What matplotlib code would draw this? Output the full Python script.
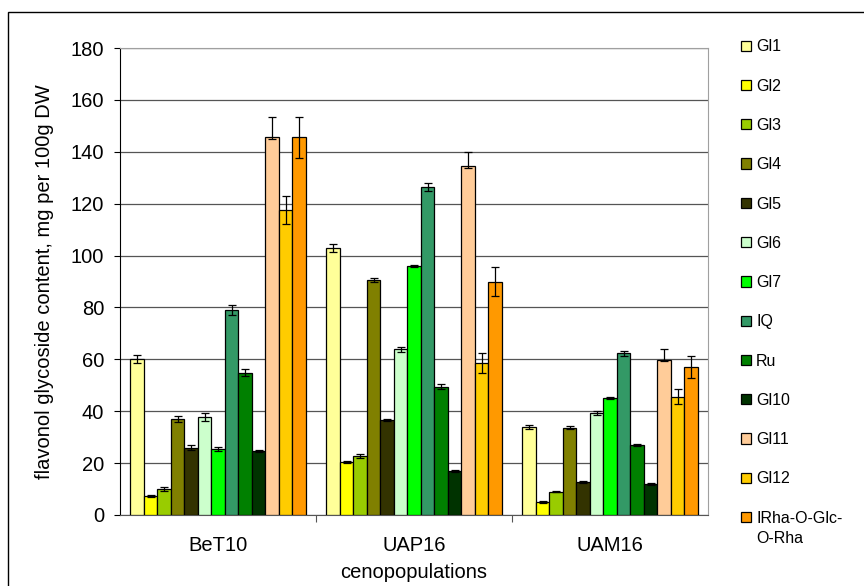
import numpy as np
import matplotlib
matplotlib.use("Agg")
import matplotlib.pyplot as plt
from matplotlib.patches import Rectangle

plt.rcParams['font.family'] = ['Liberation Sans', 'DejaVu Sans']

# Data
groups = ['BeT10', 'UAP16', 'UAM16']
compounds = ['Gl1', 'Gl2', 'Gl3', 'Gl4', 'Gl5', 'Gl6', 'Gl7', 'IQ', 'Ru',
             'Gl10', 'Gl11', 'Gl12', 'IRha-O-Glc-O-Rha']
colors = ['#FFFF99', '#FFFF00', '#99CC00', '#808000', '#333300', '#CCFFCC',
          '#00FF00', '#339966', '#008000', '#003300', '#FFCC99', '#FFCC00',
          '#FF9900']

# values per compound: [BeT10, UAP16, UAM16]
values = [
    [60.1, 102.8, 34.0],
    [7.2, 20.5, 5.0],
    [10.0, 22.8, 9.0],
    [36.9, 90.5, 33.7],
    [26.0, 36.6, 12.8],
    [37.8, 63.9, 39.3],
    [25.6, 96.1, 45.2],
    [79.0, 126.4, 62.3],
    [54.9, 49.5, 27.1],
    [24.6, 16.8, 12.0],
    [145.6, 134.6, 59.9],
    [117.5, 58.6, 45.5],
    [145.6, 89.7, 56.9],
]
err_low = [
    [1.7, 1.5, 0.8],
    [0.4, 0.4, 0.3],
    [0.8, 0.7, 0.3],
    [1.2, 0.8, 0.6],
    [1.0, 0.4, 0.4],
    [1.4, 0.9, 0.6],
    [0.8, 0.4, 0.4],
    [1.8, 1.5, 1.1],
    [1.2, 0.9, 0.4],
    [0.5, 0.4, 0.4],
    [0.6, 1.0, 0.4],
    [5.4, 3.9, 2.6],
    [7.9, 5.4, 4.1],
]
err_high = [
    [1.7, 1.5, 0.8],
    [0.4, 0.4, 0.3],
    [0.8, 0.7, 0.3],
    [1.2, 0.8, 0.6],
    [1.0, 0.4, 0.4],
    [1.4, 0.9, 0.6],
    [0.8, 0.4, 0.4],
    [1.8, 1.5, 1.1],
    [1.2, 0.9, 0.4],
    [0.5, 0.4, 0.4],
    [7.7, 5.5, 4.1],
    [5.6, 3.8, 2.9],
    [7.8, 5.8, 4.3],
]

fig = plt.figure(figsize=(8.64, 5.86), dpi=100)
ax = fig.add_axes([120 / 864, 1 - 515 / 586, 588 / 864, 467 / 586])

# outer chart frame (only left and top edges visible)
fig.patches.append(Rectangle((8 / 864, -0.05), 1.1, 1 - 12 / 586 + 0.05,
                             transform=fig.transFigure, fill=False,
                             edgecolor='black', linewidth=1.0, zorder=0))

x = np.arange(len(groups))
w = 13.5 / 196
n = len(compounds)
handles = []
for j in range(n):
    pos = x + (j - (n - 1) / 2) * w
    b = ax.bar(pos, values[j], width=w, color=colors[j], edgecolor='black',
               linewidth=0.9, zorder=3, label=compounds[j])
    ax.errorbar(pos, values[j], yerr=[err_low[j], err_high[j]], fmt='none',
                ecolor='black', elinewidth=0.9, capsize=2.6, capthick=0.9,
                zorder=4)
    handles.append(b)

ax.set_xlim(-0.5, 2.5)
ax.set_ylim(0, 180)
ax.set_yticks(np.arange(0, 181, 20))
ax.yaxis.grid(True, color='#555555', linewidth=0.9, zorder=1)
ax.set_axisbelow(True)

ax.set_xticks([0.5, 1.5], minor=False)
ax.set_xticklabels([])
ax.set_xticks(x, minor=True)
ax.set_xticklabels(groups, minor=True, fontsize=14.5)
ax.tick_params(axis='x', which='minor', length=0, pad=15)
ax.tick_params(axis='x', which='major', length=5, direction='out', color='#555555')
ax.tick_params(axis='y', length=4.3, direction='out', labelsize=14.5, pad=7)

for s in ['top', 'right']:
    ax.spines[s].set_color('#a0a0a0')
ax.spines['left'].set_color('black')
ax.spines['bottom'].set_color('#555555')

ax.set_ylabel('flavonol glycoside content, mg per 100g DW', fontsize=14.5, labelpad=12)
ax.set_xlabel('cenopopulations', fontsize=14.5, labelpad=6)

# legend: last label wraps in the original, with the box next to its first line
leg_labels = compounds[:-1] + ['IRha-O-Glc-']
leg = fig.legend(handles=handles, labels=leg_labels, loc='upper left',
                 bbox_to_anchor=(735 / 864, 1 - 33 / 586), frameon=False,
                 fontsize=11.5, handlelength=0.62, handleheight=0.62,
                 handletextpad=0.3, labelspacing=1.52, borderaxespad=0)

fig.canvas.draw()
last = leg.get_texts()[-1]
bb = last.get_window_extent(fig.canvas.get_renderer())
fig.text(bb.x0 / 864, (bb.y0 - 20) / 586, 'O-Rha', fontsize=11.5,
         ha='left', va='bottom')

fig.savefig('out.png', dpi=100)
